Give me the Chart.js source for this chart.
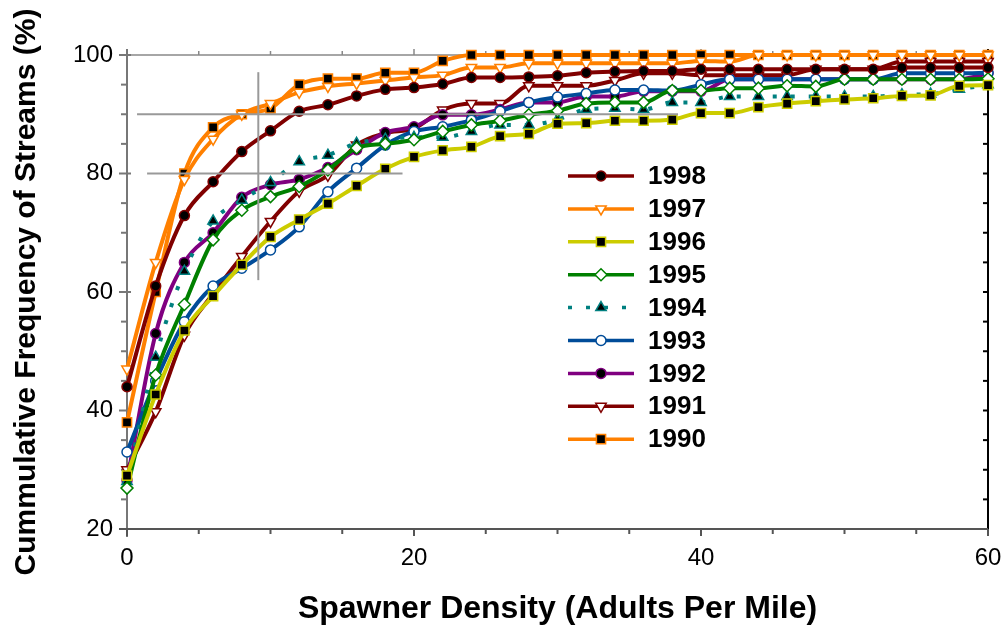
<!DOCTYPE html>
<html>
<head>
<meta charset="utf-8">
<script src="https://cdn.jsdelivr.net/npm/chart.js@4.4.0/dist/chart.umd.min.js"></script>
<style>
  html, body { margin: 0; padding: 0; background: #fff; }
</style>
</head>
<body>
<canvas id="chart" width="1006" height="633"></canvas>
<script>
// spawner density (adults per mile)
const density = [0, 2, 4, 6, 8, 10, 12, 14, 16, 18, 20, 22, 24, 26, 28, 30,
  32, 34, 36, 38, 40, 42, 44, 46, 48, 50, 52, 54, 56, 58, 60];

// cumulative frequency of streams (%) per year
const y1998 = [44, 61, 72.9, 78.6, 83.7, 87.2, 90.5, 91.6, 93.1, 94.2, 94.5, 95.1, 96.2, 96.2, 96.3, 96.5,
  97.0, 97.2, 97.3, 97.3, 97.6, 97.6, 97.6, 97.6, 97.6, 97.6, 97.6, 97.9, 97.9, 97.9, 97.9];
const y1997 = [47, 65, 79, 85.8, 90, 91.8, 93.7, 94.7, 95.2, 95.7, 96.2, 96.6, 97.9, 97.9, 98.6, 98.6,
  98.6, 98.6, 98.6, 98.6, 99, 98.9, 100, 100, 100, 100, 100, 100, 100, 100, 100];
const y1996 = [29, 42.7, 53.5, 59.3, 64.6, 69.3, 72.2, 74.9, 77.9, 80.8, 82.8, 83.9, 84.5, 86.3, 86.7, 88.4,
  88.5, 88.9, 88.9, 89.1, 90.2, 90.2, 91.2, 91.8, 92.2, 92.5, 92.7, 93.1, 93.2, 94.8, 94.9];
const y1995 = [26.9, 46, 57.9, 68.8, 73.8, 76.1, 77.8, 80.6, 84.3, 85, 85.7, 87.1, 88.2, 88.9, 89.9, 90.6,
  91.8, 92, 92, 94, 94, 94.4, 94.4, 94.8, 94.7, 95.9, 95.9, 95.9, 95.9, 95.9, 96];
const y1994 = [28, 49, 63.5, 72, 75.5, 78.5, 82, 83.1, 85.1, 85.8, 86.1, 86.1, 87.1, 88.2, 88.2, 89.1,
  90.8, 91, 90.8, 92, 92, 93, 93, 93, 93, 93, 93, 93.3, 93.4, 94.2, 95];
const y1993 = [33, 45, 55, 61, 64, 67.1, 71, 76.9, 80.9, 84.8, 87.1, 87.9, 89, 90.5, 92, 92.9,
  93.5, 94.1, 94.1, 94, 95, 95.9, 95.9, 95.9, 95.9, 95.9, 95.9, 96.9, 96.9, 96.9, 97];
const y1992 = [28.2, 53, 65, 70, 76, 78.1, 79, 81, 84, 86.9, 87.9, 89.9, 89.9, 90.8, 92, 92,
  93, 93, 93.9, 93.9, 93.9, 95.9, 95.9, 95.9, 95.9, 95.9, 95.9, 95.9, 95.9, 95.9, 96.9];
const y1991 = [30, 39.8, 52.7, 59.7, 66, 71.9, 77, 79.7, 84.8, 86.8, 87.6, 90.7, 91.8, 91.8, 94.8, 94.8,
  94.8, 95.7, 96.9, 96.9, 96.6, 96.6, 96.6, 96.6, 97.6, 97.6, 97.6, 98.9, 98.9, 98.9, 98.9];
const y1990 = [38, 60, 80, 87.8, 90, 91, 95, 96, 96, 97, 97, 99, 100, 100, 100, 100,
  100, 100, 100, 100, 100, 100, 100, 100, 100, 100, 100, 100, 100, 100, 100];

// gray guide lines (chart units)
const guideH = [{ at: 90, from: 0.7, to: 38.4 }, { at: 80, from: 1.4, to: 19.2 }];
const guideV = [{ at: 9.15, from: 62, to: 97.1 }];

const DARKRED = "rgb(128,0,0)";
const ORANGE = "rgb(255,128,0)";
const OLIVE = "rgb(204,204,0)";
const GREEN = "rgb(0,128,0)";
const TEAL = "rgb(0,128,128)";
const BLUE = "rgb(0,76,153)";
const PURPLE = "rgb(128,0,128)";

function series(label, values, color, style, fill, extra) {
  return Object.assign({
    label: label,
    data: density.map((d, i) => ({ x: d, y: values[i] })),
    borderColor: color,
    borderWidth: 4,
    cubicInterpolationMode: "monotone",
    pointStyle: style,
    pointRadius: 5,
    pointHoverRadius: 5,
    pointBackgroundColor: fill,
    pointBorderColor: color,
    pointBorderWidth: 1.5,
    clip: false,
  }, extra || {});
}

const datasets = [
  series("1998", y1998, DARKRED, "circle", "#000"),
  series("1997", y1997, ORANGE, "triangle", "#fff", { pointRotation: 180, pointRadius: 6 }),
  series("1996", y1996, OLIVE, "rect", "#000", { pointRadius: 6.5 }),
  series("1995", y1995, GREEN, "rectRot", "#fff", { pointRadius: 6 }),
  series("1994", y1994, TEAL, "triangle", "#000", { borderDash: [4, 14], pointRadius: 6 }),
  series("1993", y1993, BLUE, "circle", "#fff"),
  series("1992", y1992, PURPLE, "circle", "#000"),
  series("1991", y1991, DARKRED, "triangle", "#fff", { pointRotation: 180, pointRadius: 6 }),
  series("1990", y1990, ORANGE, "rect", "#000", { pointRadius: 6.5 }),
];

function seg(ctx, x0, y0, x1, y1) {
  ctx.beginPath();
  ctx.moveTo(x0, y0);
  ctx.lineTo(x1, y1);
  ctx.stroke();
}

// axis lines, small ticks and the box frame
const frame = {
  id: "frame",
  beforeDatasetsDraw(chart) {
    const { ctx, chartArea: a, scales: { x, y } } = chart;
    ctx.save();
    // top line at 100
    ctx.strokeStyle = "#888";
    ctx.lineWidth = 1.5;
    seg(ctx, a.left, a.top, a.right, a.top);
    for (let v = x.min; v <= x.max; v += 5) {
      const px = x.getPixelForValue(v);
      seg(ctx, px, a.top, px, a.top - (v % 20 === 0 ? 6 : 4));
    }
    // right line
    ctx.strokeStyle = "#000";
    ctx.lineWidth = 2;
    seg(ctx, a.right, a.top - 6, a.right, a.bottom);
    for (let v = y.min; v <= y.max; v += 5) {
      const py = y.getPixelForValue(v);
      seg(ctx, a.right, py, a.right - 5, py);
    }
    // left axis
    ctx.strokeStyle = "#777";
    ctx.lineWidth = 2;
    seg(ctx, a.left, a.top - 6, a.left, a.bottom + 8);
    for (let v = y.min; v <= y.max; v += 5) {
      const py = y.getPixelForValue(v);
      if (v % 20 === 0) seg(ctx, a.left - 8, py, a.left + 4, py);
      else seg(ctx, a.left - 6, py, a.left, py);
    }
    // bottom axis
    ctx.strokeStyle = "#555";
    seg(ctx, a.left - 8, a.bottom, a.right, a.bottom);
    for (let v = x.min; v <= x.max; v += 5) {
      const px = x.getPixelForValue(v);
      seg(ctx, px, a.bottom, px, a.bottom + (v % 20 === 0 ? 7 : 5));
    }
    ctx.restore();
  },
  afterDatasetsDraw(chart) {
    const { ctx, scales: { x, y } } = chart;
    ctx.save();
    ctx.strokeStyle = "#999";
    ctx.lineWidth = 2;
    guideH.forEach(g => seg(ctx, x.getPixelForValue(g.from), y.getPixelForValue(g.at),
      x.getPixelForValue(g.to), y.getPixelForValue(g.at)));
    guideV.forEach(g => seg(ctx, x.getPixelForValue(g.at), y.getPixelForValue(g.from),
      x.getPixelForValue(g.at), y.getPixelForValue(g.to)));
    ctx.restore();
  },
};

// legend drawn inside the plot
const legendBox = {
  id: "legendBox",
  afterDraw(chart) {
    const ctx = chart.ctx;
    chart.data.datasets.forEach((ds, i) => {
      const yy = 176 + i * 32.9;
      ctx.save();
      ctx.strokeStyle = ds.borderColor;
      ctx.lineWidth = 3.5;
      ctx.setLineDash(ds.borderDash || []);
      seg(ctx, 568, yy, 634, yy);
      ctx.setLineDash([]);
      ctx.fillStyle = ds.pointBackgroundColor;
      ctx.strokeStyle = ds.pointBorderColor;
      ctx.lineWidth = ds.pointBorderWidth;
      Chart.helpers.drawPoint(ctx, {
        pointStyle: ds.pointStyle,
        radius: ds.pointRadius,
        rotation: ds.pointRotation || 0,
        borderWidth: ds.pointBorderWidth,
      }, 601, yy);
      ctx.fillStyle = "#000";
      ctx.font = "bold 26px 'Liberation Sans', Arial, sans-serif";
      ctx.textBaseline = "middle";
      ctx.fillText(ds.label, 648, yy + 1);
      ctx.restore();
    });
  },
};

const tickFont = { family: "'Liberation Sans', Arial, sans-serif", size: 24 };
const titleFont = { family: "'Liberation Sans', Arial, sans-serif", size: 30, weight: "bold" };

new Chart(document.getElementById("chart"), {
  type: "line",
  data: { datasets: datasets },
  options: {
    responsive: false,
    animation: false,
    layout: { padding: { left: 0, right: 18, top: 55, bottom: 0 } },
    plugins: { legend: { display: false }, tooltip: { enabled: false } },
    scales: {
      x: {
        type: "linear",
        min: 0,
        max: 60,
        grid: { display: false, drawTicks: false },
        border: { display: false },
        ticks: { stepSize: 20, color: "#000", font: tickFont, padding: 15 },
        title: { display: true, text: "Spawner Density (Adults Per Mile)", color: "#000", font: Object.assign({}, titleFont, { size: 32 }), padding: { top: 4, bottom: 5 } },
        afterFit(scale) {
          scale.height = 104;
          scale.paddingLeft = 0;
          scale.paddingRight = 0;
        },
      },
      y: {
        min: 20,
        max: 100,
        grid: { display: false, drawTicks: false },
        border: { display: false },
        ticks: { stepSize: 20, color: "#000", font: tickFont, padding: 14 },
        title: { display: true, text: "Cummulative Frequency of Streams (%)", color: "#000", font: titleFont, padding: { top: 9, bottom: 4 } },
        afterFit(scale) {
          scale.width = 127;
          scale.paddingTop = 0;
          scale.paddingBottom = 0;
        },
      },
    },
  },
  plugins: [frame, legendBox],
});
</script>
</body>
</html>
